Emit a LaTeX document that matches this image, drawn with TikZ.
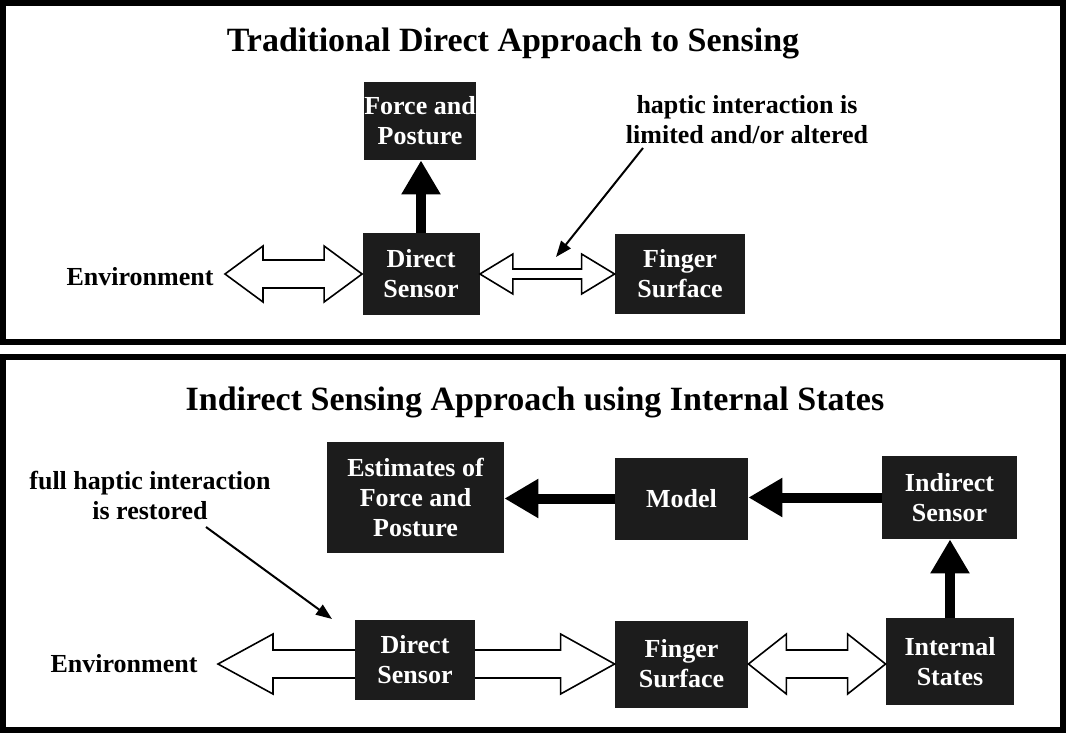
\documentclass[tikz,border=0pt]{standalone}
\usepackage{fontspec}
\setmainfont{Liberation Serif}
\usetikzlibrary{arrows.meta, positioning, calc}
\definecolor{BoxBlack}{HTML}{1C1C1C}

% open double arrow between two points on one line
\newcommand{\hollowarrow}[6]{%
  \draw[hollow] let \p1=(#1), \p2=(#2) in
    (\x1,\y1) -- (\x1+#5,\y1+#4) -- (\x1+#5,\y1+#3) -- (\x2-#6,\y1+#3) -- (\x2-#6,\y1+#4)
    -- (\x2,\y1) -- (\x2-#6,\y1-#4) -- (\x2-#6,\y1-#3) -- (\x1+#5,\y1-#3) -- (\x1+#5,\y1-#4) -- cycle;}

\begin{document}
\begin{tikzpicture}[
    x=0.5pt, y=-0.5pt,
    block/.style={fill=BoxBlack, text=white, font=\fontsize{13}{15}\selectfont\bfseries, align=center, inner sep=0pt},
    note/.style={font=\fontsize{13}{15}\selectfont\bfseries, align=center},
    heading/.style={font=\fontsize{17}{20}\selectfont\bfseries},
    panel/.style={line width=3pt},
    hollow/.style={draw=black, fill=white, line width=0.8pt, line join=miter},
    flow/.style={line width=5pt, -{Triangle[width=18.5pt,length=17pt]}},
    pointer/.style={line width=1pt, -{Triangle[width=6pt,length=8pt]}}
]
\useasboundingbox (0,0) rectangle (1066,733);
\draw[panel] (3,3) rectangle (1063,342);
\draw[panel] (3,357) rectangle (1063,730);

% traditional approach
\node[heading] (title1) at (513,43) {Traditional Direct Approach to Sensing};
\node[block, minimum width=56pt, minimum height=39pt] (force) at (420,121) {Force and\\Posture};
\node[block, minimum width=58.5pt, minimum height=41pt] (ds1) at (421,274) {Direct\\Sensor};
\node[block, minimum width=65pt, minimum height=40pt] (fs1) at (680,274) {Finger\\Surface};
\node[note] (env1) at (140,277) {Environment};
\node[note] (note1) at (747,120) {haptic interaction is\\limited and/or altered};
\coordinate (envtip1) at (225,274);
\hollowarrow{envtip1}{ds1.west}{7pt}{14pt}{19pt}{19pt}
\hollowarrow{ds1.east}{fs1.west}{2.5pt}{10pt}{16.5pt}{16.5pt}
\draw[flow] (ds1.north) -- (ds1.north |- force.south);
\coordinate (p1s) at (643,148);
\coordinate (p1e) at (556,257);
\draw[pointer] (p1s) -- (p1e);

% indirect approach
\node[heading] (title2) at (535,402) {Indirect Sensing Approach using Internal States};
\node[block, minimum width=88.5pt, minimum height=55.5pt] (est) at (415.5,497.5) {Estimates of\\Force and\\Posture};
\node[block, minimum width=66.5pt, minimum height=41pt] (model) at (681.5,498.5) {Model};
\node[block, minimum width=67.5pt, minimum height=41.5pt] (isens) at (949.5,497.5) {Indirect\\Sensor};
\node[block, minimum width=64pt, minimum height=43.5pt] (istates) at (950,661.5) {Internal\\States};
\node[block, minimum width=66.5pt, minimum height=43.5pt] (fs2) at (681.5,664) {Finger\\Surface};
\node[note] (env2) at (124,664) {Environment};
\node[note] (note2) at (150,495) {full haptic interaction\\is restored};
\coordinate (envtip2) at (218,664);
\hollowarrow{envtip2}{fs2.west}{7pt}{15pt}{27.5pt}{27pt}
\node[block, minimum width=60pt, minimum height=40pt] (ds2) at (415,660) {Direct\\Sensor};
\hollowarrow{fs2.east}{istates.west}{7pt}{15pt}{19pt}{19pt}
\draw[flow] (istates.north) -- (istates.north |- isens.south);
\draw[flow] (isens.west) -- (isens.west -| model.east);
\draw[flow] (model.west) -- (model.west -| est.east);
\coordinate (p2s) at (206,527);
\coordinate (p2e) at (332,619);
\draw[pointer] (p2s) -- (p2e);
\end{tikzpicture}
\end{document}
